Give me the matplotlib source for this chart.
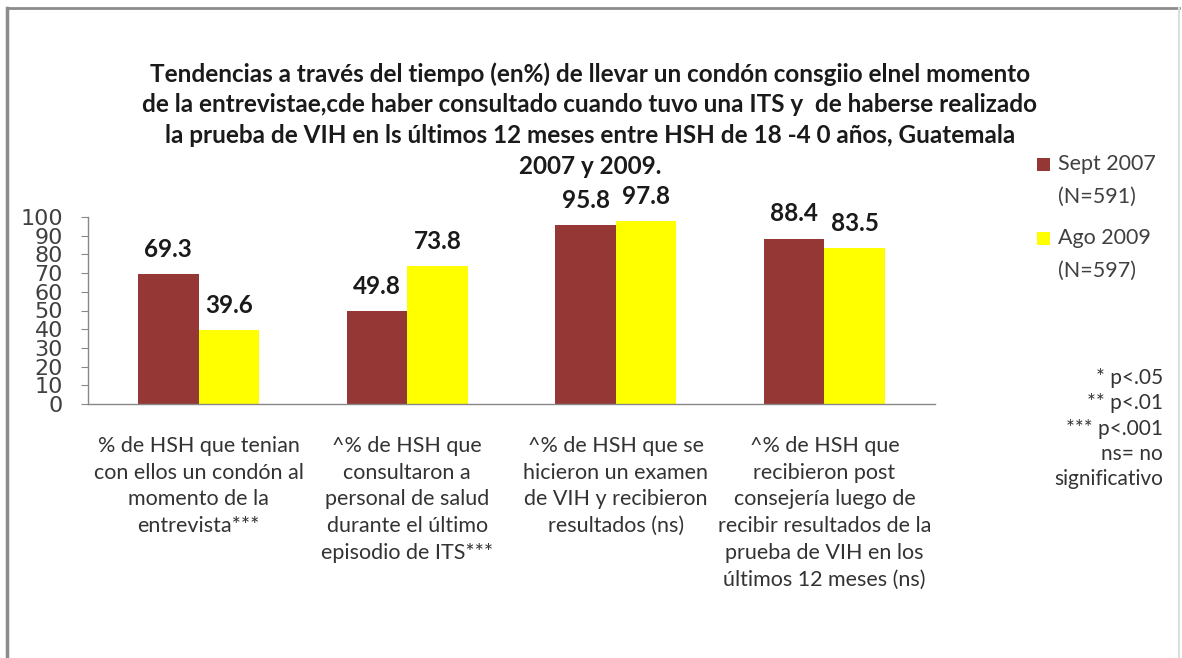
import matplotlib
matplotlib.use("Agg")
import matplotlib.pyplot as plt
from matplotlib.patches import Rectangle
import numpy as np

categories = [
    "% de HSH que tenian\ncon ellos un condón al\nmomento de la\nentrevista***",
    "^% de HSH que\nconsultaron a\npersonal de salud\ndurante el último\nepisodio de ITS***",
    "^% de HSH que se\nhicieron un examen\nde VIH y recibieron\nresultados (ns)",
    "^% de HSH que\nrecibieron post\nconsejería luego de\nrecibir resultados de la\nprueba de VIH en los\núltimos 12 meses (ns)",
]
sept_2007 = [69.3, 49.8, 95.8, 88.4]
ago_2009 = [39.6, 73.8, 97.8, 83.5]
series_names = ["Sept 2007", "Ago 2009"]
series_n = ["(N=591)", "(N=597)"]
yticks = [0, 10, 20, 30, 40, 50, 60, 70, 80, 90, 100]
title = ("Tendencias a través del tiempo (en%) de llevar un condón consgiio elnel momento\n"
         "de la entrevistae,cde haber consultado cuando tuvo una ITS y  de haberse realizado\n"
         "la prueba de VIH en ls últimos 12 meses entre HSH de 18 -4 0 años, Guatemala\n"
         "2007 y 2009.")
notes = "* p<.05\n** p<.01\n*** p<.001\nns= no\nsignificativo"

plt.rcParams['font.family'] = ['Lato', 'DejaVu Sans']

W, H = 1182, 658
fig = plt.figure(figsize=(W / 100, H / 100), dpi=100)
fig.patch.set_facecolor('white')

# outer frame
fig.add_artist(plt.Line2D([7 / W, 7 / W], [0, 1 - 8 / H], transform=fig.transFigure,
                          color='#8c8c8c', lw=2.5))
fig.add_artist(plt.Line2D([7 / W, 1179 / W], [1 - 8 / H, 1 - 8 / H], transform=fig.transFigure,
                          color='#8c8c8c', lw=2))
fig.add_artist(plt.Line2D([1179 / W, 1179 / W], [0, 1 - 8 / H], transform=fig.transFigure,
                          color='#dddddd', lw=1.5))

ax_left, ax_right = 88, 935
y0_px, y100_px = 404, 217
ax = fig.add_axes([ax_left / W, 1 - y0_px / H, (ax_right - ax_left) / W, (y0_px - y100_px) / H])

x = np.arange(len(categories))
bw = 0.29
colors = ['#953735', '#FFFF00']
b1 = ax.bar(x - bw / 2, sept_2007, bw, color=colors[0])
b2 = ax.bar(x + bw / 2, ago_2009, bw, color=colors[1])

for bars, vals in ((b1, sept_2007), (b2, ago_2009)):
    for r, v in zip(bars, vals):
        ax.annotate(f"{v:.1f}", (r.get_x() + r.get_width() / 2, v), xytext=(0, 9.5),
                    textcoords='offset points', ha='center', va='bottom',
                    fontsize=17.5, fontweight='bold', color='#1a1a1a')

ax.set_xlim(-0.53, 3.53)
ax.set_ylim(0, 100)
ax.set_yticks(yticks)
ax.set_yticklabels([str(t) for t in yticks], fontsize=16, color='#404040',
                   family=['DejaVu Sans'])
ax.tick_params(axis='y', length=5, color='#888888', pad=13)
ax.set_xticks(x)
ax.set_xticklabels(categories, fontsize=15.5, color='#333333', linespacing=1.42)
ax.tick_params(axis='x', length=0, pad=23)
for s in ('top', 'right'):
    ax.spines[s].set_visible(False)
for s in ('left', 'bottom'):
    ax.spines[s].set_color('#888888')
    ax.spines[s].set_linewidth(1)
ax.set_facecolor('none')

fig.text(590 / W, 1 - 62 / H, title, ha='center', va='top', fontsize=17.5,
         fontweight='bold', color='#1a1a1a', linespacing=1.41)

# legend (manual, to keep the marker beside the first line)
leg_rows = [164, 238]
for name, n, col, yc in zip(series_names, series_n, colors, leg_rows):
    fig.add_artist(Rectangle((1037 / W, 1 - (yc + 6.5) / H), 13 / W, 13 / H,
                             transform=fig.transFigure, facecolor=col, edgecolor='none'))
    fig.text(1058 / W, 1 - yc / H, name, ha='left', va='center', fontsize=15.5,
             color='#404040')
    fig.text(1058 / W, 1 - (yc + 33) / H, n, ha='left', va='center', fontsize=15.5,
             color='#404040')

fig.text(1163 / W, 1 - 368 / H, notes, ha='right', va='top', fontsize=15,
         color='#333333', linespacing=1.33)

fig.savefig('out.png', dpi=100, facecolor='white')
